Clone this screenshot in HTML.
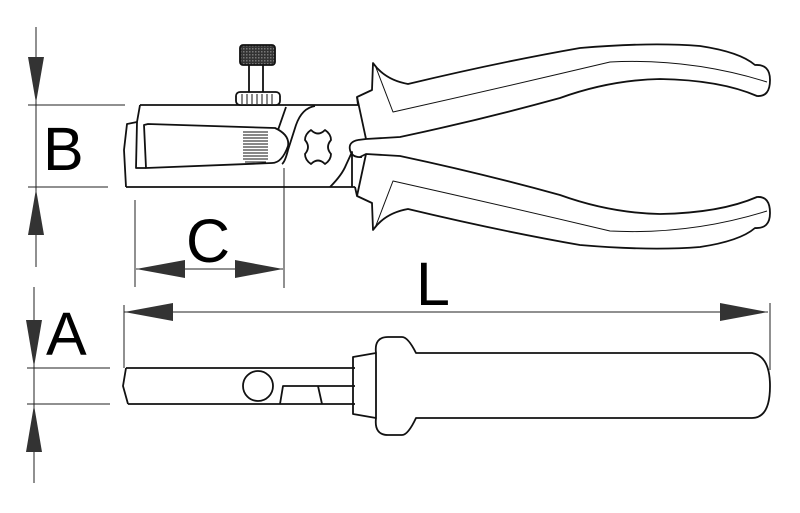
<!DOCTYPE html>
<html><head><style>html,body{margin:0;padding:0;background:#fff}svg{display:block}text{font-family:"Liberation Sans",sans-serif;fill:#000}</style></head>
<body>
<svg width="800" height="513" viewBox="0 0 800 513" xmlns="http://www.w3.org/2000/svg">
<defs>
<pattern id="kn" width="3" height="3" patternUnits="userSpaceOnUse"><rect width="3" height="3" fill="#333"/><rect width="1.5" height="1.5" fill="#777"/></pattern>
</defs>
<g fill="none" stroke="#222" stroke-width="1">
<!-- B dimension -->
<line x1="36" y1="27" x2="36" y2="267"/>
<line x1="28" y1="105" x2="125" y2="105"/>
<line x1="28" y1="187" x2="108" y2="187"/>
<!-- C -->
<line x1="135" y1="200" x2="135" y2="287"/>
<line x1="284" y1="168" x2="284" y2="288"/>
<line x1="136" y1="269" x2="283" y2="269"/>
<!-- A -->
<line x1="34" y1="287" x2="34" y2="483"/>
<line x1="27" y1="368" x2="110" y2="368"/>
<line x1="27" y1="404" x2="110" y2="404"/>
<!-- L -->
<line x1="124" y1="312" x2="768" y2="312"/>
<line x1="124" y1="305" x2="124" y2="368"/>
<line x1="770" y1="303" x2="770" y2="370"/>
</g>
<g fill="#333">
<polygon points="28,57 44,57 36,103"/>
<polygon points="28,235 44,235 36,189"/>
<polygon points="136,269 185,260 185,278"/>
<polygon points="283,269 235,260 235,278"/>
<polygon points="26,320 42,320 34,367"/>
<polygon points="26,452 42,452 34,405"/>
<polygon points="124,312 173,303 173,321"/>
<polygon points="768,312 720,303 720,321"/>
</g>
<text x="43" y="170" font-size="61">B</text>
<text x="186" y="262" font-size="61">C</text>
<text x="46" y="355" font-size="61">A</text>
<text x="416" y="305" font-size="61">L</text>

<g fill="none" stroke="#111" stroke-width="1.8" stroke-linejoin="round">
<!-- top view jaw -->
<path d="M140,105 L358,105"/>
<path d="M126,187 L355,187"/>
<path d="M140,105 L137,122 L127,124 L124,150 L126,187"/>
<path d="M137,122 L136,168 L146,168"/>
<path d="M148,124 L275,128 Q290,135 288,146 Q282,163 272,163 L146,168 L144,125 Z"/>
<path d="M286,107 L278,130"/>
<path d="M315,106 Q302,108 296,125 L288,150 Q285,162 282,164"/>
<path d="M330,187 Q342,175 346,165 L352,152 L352,187"/>
<path d="M311,130 Q318,137 325,130 Q331,134 331,140 Q325,147 331,154 Q331,160 325,164 Q318,157 311,164 Q305,160 305,154 Q311,147 305,140 Q305,134 311,130 Z"/>
<!-- springs -->
<g stroke-width="1">
<line x1="243" y1="132" x2="268" y2="132"/><line x1="243" y1="135" x2="268" y2="135"/><line x1="243" y1="138" x2="268" y2="138"/><line x1="243" y1="141" x2="268" y2="141"/><line x1="243" y1="144" x2="268" y2="144"/><line x1="243" y1="147" x2="268" y2="147"/><line x1="243" y1="150" x2="268" y2="150"/><line x1="243" y1="153" x2="268" y2="153"/><line x1="243" y1="156" x2="268" y2="156"/><line x1="243" y1="159" x2="268" y2="159"/><line x1="245" y1="162" x2="266" y2="162"/>
</g>
<!-- screw -->
<rect x="240" y="45" width="35" height="20" rx="3" fill="url(#kn)"/>
<path d="M249,65 L249,92 M263,65 L263,92"/>
<rect x="236" y="92" width="44" height="13" rx="4" fill="#fff"/>
<g stroke-width="1"><line x1="242" y1="94" x2="242" y2="104"/><line x1="247" y1="94" x2="247" y2="104"/><line x1="252" y1="94" x2="252" y2="104"/><line x1="257" y1="94" x2="257" y2="104"/><line x1="262" y1="94" x2="262" y2="104"/><line x1="267" y1="94" x2="267" y2="104"/><line x1="272" y1="94" x2="272" y2="104"/></g>
<!-- pivot -->
<path d="M358,140 Q348,142 350,150 Q352,158 362,157"/>
<!-- upper handle -->
<path d="M358,105 L357,97 L372,90 L373,63 Q385,80 408,84 Q500,62 580,48 Q650,42 700,46 Q740,52 755,65 Q770,64 770,80 Q770,97 757,96 Q720,80 660,79 Q610,80 560,98 Q480,120 400,137 L366,139 L358,140"/>
<path d="M357,97 L366,139" />
<path d="M375,65 L393,112 Q500,88 610,62 Q690,58 767,82" stroke-width="1"/>
<!-- lower handle (mirror y'=293-y) -->
<path d="M355,187 L357,196 L372,203 L373,230 Q385,213 408,209 Q500,231 580,245 Q650,251 700,247 Q740,241 755,228 Q770,229 770,213 Q770,196 757,197 Q720,213 660,214 Q610,213 560,195 Q480,173 400,156 L366,154 L360,157"/>
<path d="M357,196 L366,154"/>
<path d="M375,228 L393,181 Q500,205 610,231 Q690,235 767,211" stroke-width="1"/>

<!-- side view -->
<path d="M126,368 L355,368 M128,404 L355,404 M126,368 L123,386 L128,404"/>
<circle cx="258" cy="386" r="15"/>
<path d="M280,404 L283,386 L318,386 L322,404 M318,386 L355,386"/>
<path d="M353,357 L376,353 L376,418 L353,414 Z"/>
<path d="M376,353 Q374,337 388,337 L402,337 Q408,337 416,353 L752,353 Q770,356 770,386 Q770,418 752,418 L416,418 Q408,435 402,435 L388,435 Q374,435 376,418"/>
</g>
</svg>
</body></html>
